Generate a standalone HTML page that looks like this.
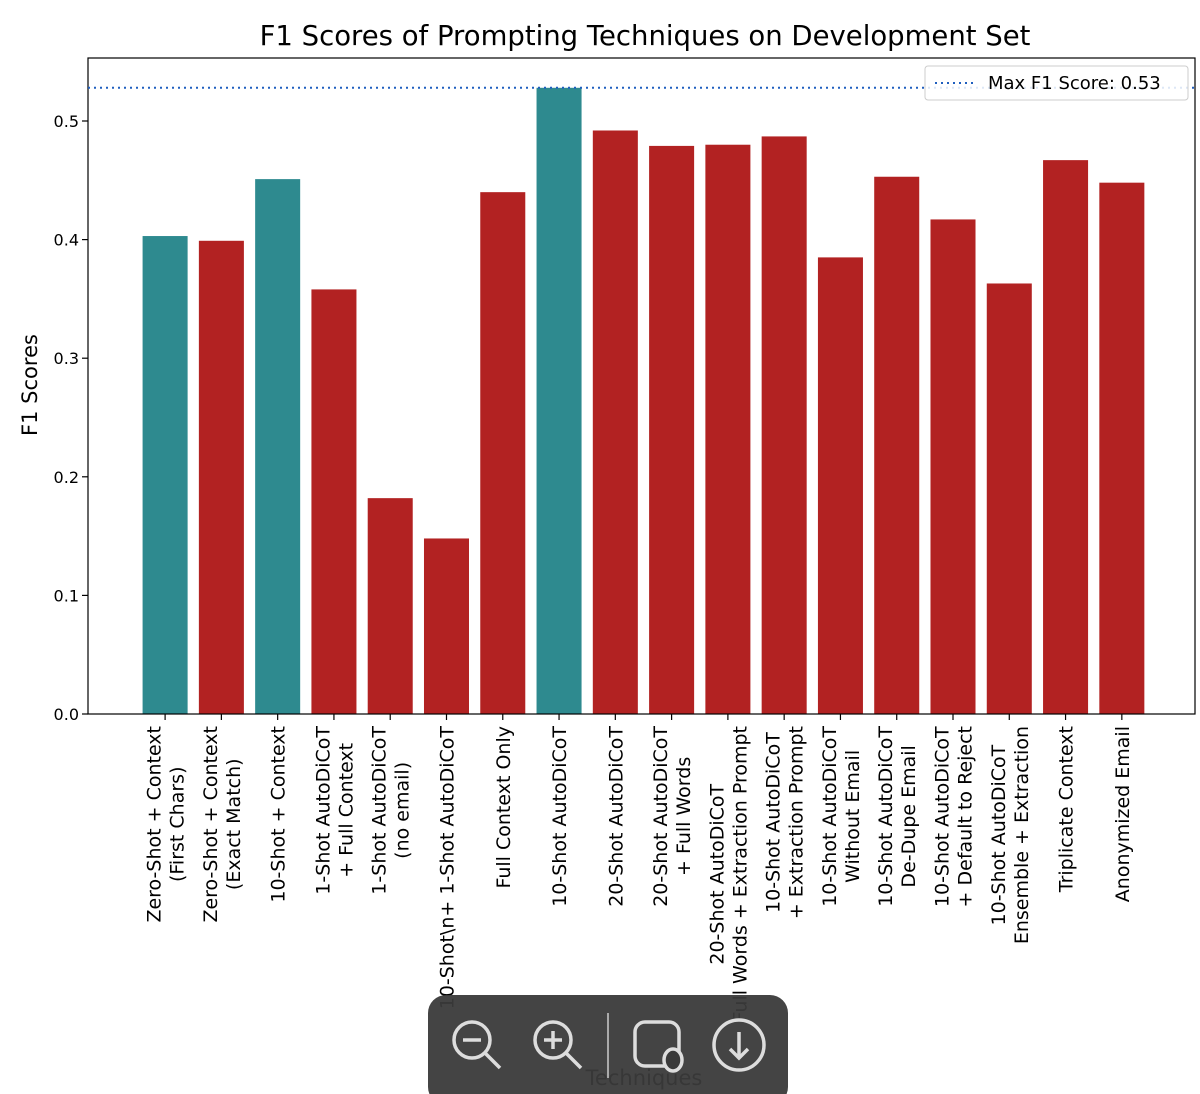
<!DOCTYPE html>
<html><head><meta charset="utf-8"><style>
body{margin:0;background:#fff;}
svg{display:block;font-family:"DejaVu Sans","Liberation Sans",sans-serif;}
</style></head><body>
<svg id="chart" width="1200" height="1094">
<text x="645" y="45" font-size="27.5" text-anchor="middle">F1 Scores of Prompting Techniques on Development Set</text>
<text transform="translate(37,385) rotate(-90)" font-size="21" text-anchor="middle">F1 Scores</text>
<g id="bars"></g><g id="yticks"></g><g id="xticks"></g>
<rect x="88" y="58" width="1107" height="656" fill="none" stroke="#000" stroke-width="1.2"/>
<line id="maxline" x1="88" x2="1195" stroke="#1f5fbf" stroke-width="2" stroke-dasharray="2,4"/>
<g>
<rect x="925" y="66" width="263" height="34" rx="3" fill="#fff" fill-opacity="0.85" stroke="#ccc"/>
<line x1="935" x2="975" y1="83" y2="83" stroke="#1f5fbf" stroke-width="2" stroke-dasharray="2,4"/>
<text x="988" y="89" font-size="18">Max F1 Score: 0.53</text>
</g>
<text x="644" y="1085" font-size="21" text-anchor="middle">Techniques</text>
<g>
<rect x="428" y="995" width="360" height="110" rx="18" fill="#3a3a3a" fill-opacity="0.95"/>
<g stroke="#ddd" stroke-width="3.5" fill="none"><circle cx="472" cy="1040" r="18"/><line x1="485" y1="1053" x2="500" y2="1068"/><line x1="463" y1="1040" x2="481" y2="1040"/></g>
<g stroke="#ddd" stroke-width="3.5" fill="none"><circle cx="553" cy="1040" r="18"/><line x1="566" y1="1053" x2="581" y2="1068"/><line x1="544" y1="1040" x2="562" y2="1040"/><line x1="553" y1="1031" x2="553" y2="1049"/></g>
<line x1="608" y1="1013" x2="608" y2="1078" stroke="#aaa" stroke-width="2"/>
<g stroke="#ddd" stroke-width="3.5" fill="none"><rect x="635" y="1022" width="44" height="44" rx="10"/><ellipse cx="673" cy="1060" rx="9" ry="11" fill="#3a3a3a"/></g>
<g stroke="#ddd" stroke-width="3.5" fill="none"><circle cx="739" cy="1045" r="25"/><line x1="739" y1="1032" x2="739" y2="1058"/><polyline points="730,1049 739,1058 748,1049"/></g>
</g>
</svg>
<script>
const labels=[["Zero-Shot + Context","(First Chars)"],["Zero-Shot + Context","(Exact Match)"],["10-Shot + Context"],["1-Shot AutoDiCoT","+ Full Context"],["1-Shot AutoDiCoT","(no email)"],["10-Shot\\n+ 1-Shot AutoDiCoT"],["Full Context Only"],["10-Shot AutoDiCoT"],["20-Shot AutoDiCoT"],["20-Shot AutoDiCoT","+ Full Words"],["20-Shot AutoDiCoT","Full Words + Extraction Prompt"],["10-Shot AutoDiCoT","+ Extraction Prompt"],["10-Shot AutoDiCoT","Without Email"],["10-Shot AutoDiCoT","De-Dupe Email"],["10-Shot AutoDiCoT","+ Default to Reject"],["10-Shot AutoDiCoT","Ensemble + Extraction"],["Triplicate Context"],["Anonymized Email"]];
const values=[0.403,0.399,0.451,0.358,0.182,0.148,0.440,0.528,0.492,0.479,0.480,0.487,0.385,0.453,0.417,0.363,0.467,0.448];
const highlighted=[1,0,1,0,0,0,0,1,0,0,0,0,0,0,0,0,0,0];
const yTicks=[0,0.1,0.2,0.3,0.4,0.5];
const NS="http://www.w3.org/2000/svg";
const x=i=>88+(i+1.37)*(1107/19.67);
const y=v=>714-v*1186;
const bw=0.8*1107/19.67;
function mk(t,a,p){const e=document.createElementNS(NS,t);for(const k in a)e.setAttribute(k,a[k]);p.appendChild(e);return e;}
const gb=document.getElementById('bars'),gy=document.getElementById('yticks'),gx=document.getElementById('xticks');
values.forEach((v,i)=>{
 const r=mk('rect',{x:x(i)-bw/2,y:y(v),width:bw,height:y(0)-y(v),fill:highlighted[i]?'#2e8a8f':'#b22222'},gb);
 
 
 mk('line',{x1:x(i),x2:x(i),y1:714,y2:720,stroke:'#000','stroke-width':1.2},gx);
 const n=labels[i].length;
 const ts=labels[i].map((s,j)=>{
  const t=mk('text',{'font-size':19,'text-anchor':'middle'},gx);
  t.textContent=s;
  
  
  return t;
 });
 const maxLen=Math.max(...ts.map(t=>t.getComputedTextLength()));
 ts.forEach((t,j)=>{
  const tx=x(i)+(j-(n-1)/2)*23+7;
  t.setAttribute('transform',`translate(${tx},${726+maxLen/2}) rotate(-90)`);
 });
});
yTicks.forEach(v=>{
 mk('line',{x1:82,x2:88,y1:y(v),y2:y(v),stroke:'#000','stroke-width':1.2},gy);
 const t=mk('text',{x:79,y:y(v)+6,'font-size':16,'text-anchor':'end'},gy);
 t.textContent=v.toFixed(1);
 
 
});
const ml=document.getElementById('maxline');
const mx=Math.max(...values);
ml.setAttribute('y1',y(mx));ml.setAttribute('y2',y(mx));
</script>
</body></html>
